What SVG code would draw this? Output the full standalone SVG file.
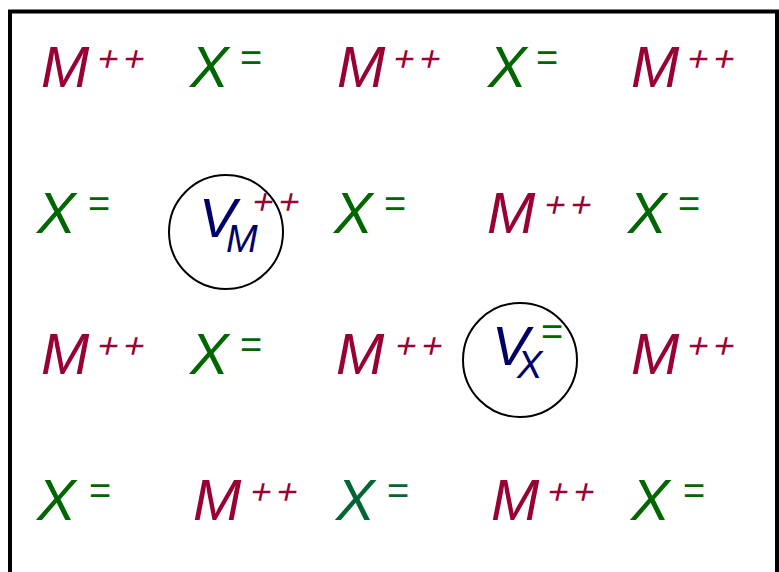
<svg xmlns="http://www.w3.org/2000/svg" width="779" height="572" viewBox="0 0 779 572">
<style>
text{font-family:"Liberation Sans",Arial,sans-serif;font-style:italic}
.big{font-size:58px}
.sup{font-size:36px;letter-spacing:5px}
.eq{font-size:38px;font-style:normal}
.vv{font-size:56px}
.sub{font-size:38px}
.m{fill:#990033}
.x{fill:#006600}
.x2{fill:#006633}
.v{fill:#000066}
.ring{fill:none;stroke:#000;stroke-width:2}
</style>
<rect x="10" y="11.5" width="767" height="600" fill="#fff" stroke="#000" stroke-width="4"/>
<g id="row1">
<g id="r1c1"><text class="big m" x="41" y="87">M</text><text class="sup m" transform="translate(95,71) skewX(-12)">++</text></g>
<g id="r1c2"><text class="big x" x="190" y="87">X</text><text class="eq x" x="240" y="71">=</text></g>
<g id="r1c3"><text class="big m" x="337" y="87">M</text><text class="sup m" transform="translate(391,71) skewX(-12)">++</text></g>
<g id="r1c4"><text class="big x" x="488" y="87">X</text><text class="eq x" x="536" y="71">=</text></g>
<g id="r1c5"><text class="big m" x="631" y="87">M</text><text class="sup m" transform="translate(685,71) skewX(-12)">++</text></g>
</g>
<g id="row2">
<g id="r2c1"><text class="big x" x="37" y="233">X</text><text class="eq x" x="88" y="217">=</text></g>
<g id="r2c2"><circle class="ring" cx="226" cy="232" r="57"/><text class="vv v" x="199" y="237">V</text><text class="sub v" x="226" y="252">M</text><text class="sup m" transform="translate(250,214) skewX(-12)">++</text></g>
<g id="r2c3"><text class="big x" x="334" y="233">X</text><text class="eq x" x="384" y="217">=</text></g>
<g id="r2c4"><text class="big m" x="487" y="233">M</text><text class="sup m" transform="translate(542,217) skewX(-12)">++</text></g>
<g id="r2c5"><text class="big x" x="628" y="233">X</text><text class="eq x" x="678" y="217">=</text></g>
</g>
<g id="row3">
<g id="r3c1"><text class="big m" x="41" y="374">M</text><text class="sup m" transform="translate(95,358) skewX(-12)">++</text></g>
<g id="r3c2"><text class="big x" x="190" y="374">X</text><text class="eq x" x="240" y="358">=</text></g>
<g id="r3c3"><text class="big m" x="336" y="374">M</text><text class="sup m" transform="translate(393,358) skewX(-12)">++</text></g>
<g id="r3c4"><circle class="ring" cx="520" cy="360" r="57"/><text class="vv v" x="492" y="365">V</text><text class="sub v" x="517" y="378">X</text><text class="eq x" x="541" y="345">=</text></g>
<g id="r3c5"><text class="big m" x="631" y="374">M</text><text class="sup m" transform="translate(685,358) skewX(-12)">++</text></g>
</g>
<g id="row4">
<g id="r4c1"><text class="big x" x="37" y="520">X</text><text class="eq x" x="89" y="504">=</text></g>
<g id="r4c2"><text class="big m" x="193" y="520">M</text><text class="sup m" transform="translate(248,504) skewX(-12)">++</text></g>
<g id="r4c3"><text class="big x2" x="336" y="520">X</text><text class="eq x2" x="387" y="504">=</text></g>
<g id="r4c4"><text class="big m" x="491" y="520">M</text><text class="sup m" transform="translate(545,504) skewX(-12)">++</text></g>
<g id="r4c5"><text class="big x" x="631" y="520">X</text><text class="eq x" x="683" y="504">=</text></g>
</g>
<g id="connectors"/>
</svg>
